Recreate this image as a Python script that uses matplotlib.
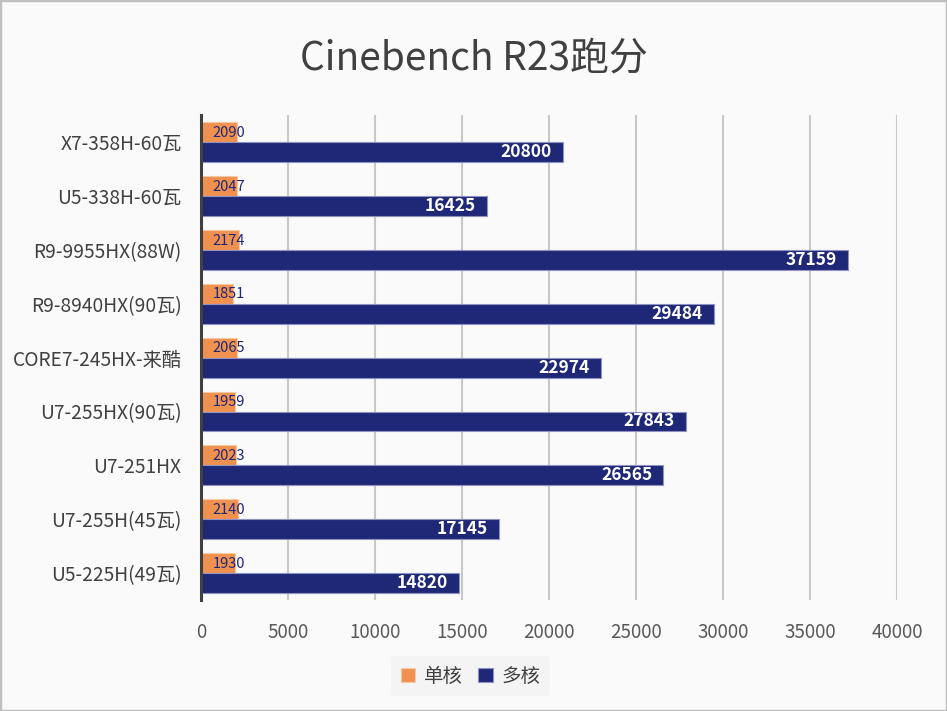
import numpy as np
import matplotlib
matplotlib.use('Agg')
import matplotlib.pyplot as plt
from matplotlib.patches import Rectangle

plt.rcParams['font.family'] = ['Noto Sans CJK SC', 'DejaVu Sans']

# Data, top to bottom
cpus = ['X7-358H-60瓦', 'U5-338H-60瓦', 'R9-9955HX(88W)', 'R9-8940HX(90瓦)',
        'CORE7-245HX-来酷', 'U7-255HX(90瓦)', 'U7-251HX', 'U7-255H(45瓦)',
        'U5-225H(49瓦)']
single_core = [2090, 2047, 2174, 1851, 2065, 1959, 2023, 2140, 1930]
multi_core = [20800, 16425, 37159, 29484, 22974, 27843, 26565, 17145, 14820]
series_names = ['单核', '多核']
x_ticks = [0, 5000, 10000, 15000, 20000, 25000, 30000, 35000, 40000]

orange = '#F0914F'
navy = '#1F2877'
bg = '#FAFAFA'

fig = plt.figure(figsize=(9.47, 7.11), dpi=100, facecolor=bg)
fig.patches.append(Rectangle((0, 0), 1, 1, transform=fig.transFigure,
                             fill=False, edgecolor='#BFBFBF', linewidth=2.5))
ax = fig.add_axes([0.2123, 0.156, 0.735, 0.682])
ax.set_facecolor(bg)

y = np.arange(len(cpus))
h = 0.37
b1 = ax.barh(y - h / 2, single_core, height=h, color=orange,
             edgecolor='#F6C9A6', linewidth=0.8, label=series_names[0], zorder=3)
b2 = ax.barh(y + h / 2, multi_core, height=h, color=navy,
             edgecolor='#8E92C2', linewidth=0.8, label=series_names[1], zorder=3)

for yi, v in zip(y, single_core):
    ax.annotate(str(v), (0, yi - h / 2), xytext=(8.5, -0.5), textcoords='offset points',
                ha='left', va='center', fontsize=10.5, color='#1F2877', zorder=4)
for yi, v in zip(y, multi_core):
    ax.annotate(str(v), (v, yi + h / 2), xytext=(-8, 0), textcoords='offset points',
                ha='right', va='center', fontsize=12.5, fontweight='bold',
                color='white', zorder=4)

ax.set_xlim(0, 40000)
ax.set_ylim(len(cpus) - 0.5, -0.5)
ax.set_xticks(x_ticks)
ax.set_xticklabels([str(t) for t in x_ticks])
ax.set_yticks(y)
ax.set_yticklabels(cpus)
ax.tick_params(axis='x', length=0, pad=16, labelsize=13.5, labelcolor='#595959')
ax.tick_params(axis='y', length=0, pad=14, labelsize=13.8, labelcolor='#404040')
ax.grid(axis='x', color='#C8C8C8', linewidth=1.5, zorder=0)
for s in ['top', 'right', 'bottom']:
    ax.spines[s].set_visible(False)
ax.spines['left'].set_color('#404040')
ax.spines['left'].set_linewidth(2.2)
ax.spines['left'].set_zorder(5)

fig.text(0.5, 0.918, 'Cinebench R23跑分', ha='center', va='center',
         fontsize=28, color='#404040')

leg = fig.legend(handles=[b1, b2], loc='center', bbox_to_anchor=(0.497, 0.049),
                 ncol=2, frameon=True, prop={'size': 14},
                 handlelength=0.75, handleheight=0.75, handletextpad=0.45,
                 columnspacing=0.8, borderpad=0.5, borderaxespad=0)
leg.get_frame().set_facecolor('#F3F3F3')
leg.get_frame().set_edgecolor('none')
for t in leg.get_texts():
    t.set_color('#404040')

fig.savefig('out.png', dpi=100, facecolor=bg)
